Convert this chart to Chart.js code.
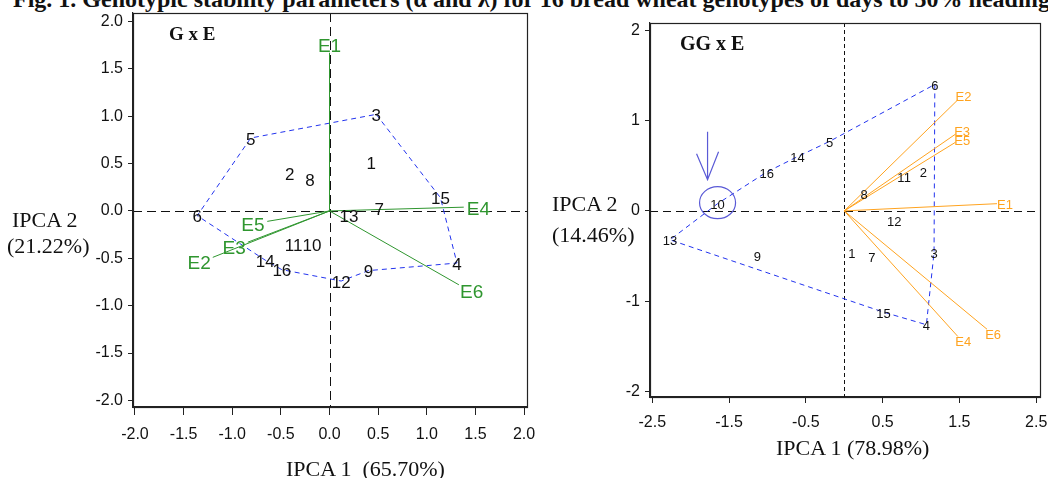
<!DOCTYPE html>
<html>
<head>
<meta charset="utf-8">
<script src="https://cdn.jsdelivr.net/npm/chart.js@4.4.1/dist/chart.umd.min.js"></script>
<style>
  body{margin:0;background:#fff;width:1048px;height:478px;overflow:hidden;position:relative;}
  canvas{position:absolute;top:0;}
  #gxe{left:0;}
  #gge{left:540px;}
  .txt{position:absolute;white-space:nowrap;color:#111;font-family:'Liberation Serif','Times New Roman',serif;line-height:1;}
</style>
</head>
<body>
<div class="txt" style="left:13px;top:-13px;font-size:24px;font-weight:bold;">Fig. 1. Genotypic stability parameters (α and λ) for 16 bread wheat genotypes of days to 50% heading</div>
<canvas id="gxe" width="540" height="478"></canvas>
<canvas id="gge" width="508" height="478"></canvas>
<div class="txt" style="left:169px;top:24px;font-size:19px;font-weight:bold;">G x E</div>
<div class="txt" style="left:680px;top:33px;font-size:20px;font-weight:bold;">GG x E</div>
<div class="txt" style="left:12px;top:209px;font-size:22px;">IPCA 2</div>
<div class="txt" style="left:7px;top:235px;font-size:22px;">(21.22%)</div>
<div class="txt" style="left:286px;top:458px;font-size:22px;">IPCA 1&nbsp;&nbsp;(65.70%)</div>
<div class="txt" style="left:552px;top:193px;font-size:22px;">IPCA 2</div>
<div class="txt" style="left:552px;top:224px;font-size:22px;">(14.46%)</div>
<div class="txt" style="left:776px;top:437px;font-size:22px;">IPCA 1 (78.98%)</div>
<script>
// ===================== DATA =====================
const genoNames = ['1','2','3','4','5','6','7','8','9','10','11','12','13','14','15','16'];
const envNames  = ['E1','E2','E3','E4','E5','E6'];

// G x E biplot (IPCA1 vs IPCA2)
const gxeGenoX = [0.43,-0.41,0.48,1.31,-0.81,-1.36,0.51,-0.20,0.40,-0.18,-0.37,0.12,0.20,-0.66,1.14,-0.49];
const gxeGenoY = [0.51,0.40,1.02,-0.55,0.77,-0.05,0.03,0.33,-0.63,-0.35,-0.35,-0.74,-0.05,-0.52,0.14,-0.62];
const gxeEnvX  = [0.00,-1.20,-0.84,1.38,-0.64,1.33];
const gxeEnvY  = [1.67,-0.49,-0.33,0.04,-0.11,-0.78];
const gxeHull  = ['3','15','4','9','12','16','14','6','5'];
const gxeTicks = [-2,-1.5,-1,-0.5,0,0.5,1,1.5,2];

// GG x E biplot
const ggeGenoX = [0.10,1.03,1.17,1.07,-0.19,1.18,0.36,0.26,-1.13,-1.65,0.78,0.65,-2.27,-0.61,0.51,-1.01];
const ggeGenoY = [-0.46,0.44,-0.46,-1.26,0.77,1.40,-0.50,0.19,-0.49,0.08,0.38,-0.11,-0.32,0.60,-1.12,0.43];
const ggeEnvX  = [1.99,1.48,1.45,1.48,1.45,1.86];
const ggeEnvY  = [0.08,1.23,0.85,-1.39,0.76,-1.31];
const ggeHull  = ['6','3','4','15','13','10','16','14','5'];
const ggeXTicks = [-2.5,-1.5,-0.5,0.5,1.5,2.5];
const ggeYTicks = [-2,-1,0,1,2];
const ggeMarked = '10';

// ===================== PANEL =====================
function buildPanel(id, cfg){
  const datasets = [];
  cfg.envX.forEach((x,i)=>{
    datasets.push({label:envNames[i], data:[{x:0,y:0},{x:x,y:cfg.envY[i]}], showLine:true,
      borderColor:cfg.envColor, borderWidth:1, pointRadius:0, tension:0});
  });
  const hull = cfg.hull.map(n=>{ const i=genoNames.indexOf(n); return {x:cfg.genoX[i], y:cfg.genoY[i]}; });
  hull.push(hull[0]);
  datasets.push({label:'hull', data:hull, showLine:true, borderColor:'#2233ee', borderWidth:1,
    borderDash:[5,4], pointRadius:0, tension:0});
  const gi = datasets.length;
  datasets.push({label:'Genotypes', data:cfg.genoX.map((x,i)=>({x:x,y:cfg.genoY[i]})), pointRadius:0});

  const biplot = {
    id:'biplot',
    beforeDatasetsDraw(chart){
      const {ctx, chartArea:a, scales:{x:xs,y:ys}} = chart;
      const x0 = Math.round(xs.getPixelForValue(0))+0.5, y0 = Math.round(ys.getPixelForValue(0))+0.5;
      ctx.save();
      ctx.strokeStyle='#111'; ctx.lineWidth=1;
      ctx.setLineDash(cfg.hDash);
      ctx.beginPath(); ctx.moveTo(a.left,y0); ctx.lineTo(a.right,y0); ctx.stroke();
      ctx.setLineDash(cfg.vDash);
      ctx.beginPath(); ctx.moveTo(x0,a.top); ctx.lineTo(x0,a.bottom); ctx.stroke();
      ctx.restore();
    },
    afterDatasetsDraw(chart){
      const {ctx, chartArea:a} = chart;
      ctx.save();
      ctx.strokeStyle='#222'; ctx.lineWidth=1.2; ctx.setLineDash([]);
      ctx.strokeRect(Math.round(a.left)+0.5, Math.round(a.top)+0.5, Math.round(a.width), Math.round(a.height));
      // environment labels, pushed out along the vector
      ctx.textAlign='center'; ctx.textBaseline='middle';
      ctx.font = cfg.envFont+'px "Liberation Sans", Arial, sans-serif';
      ctx.fillStyle = cfg.envColor;
      envNames.forEach((n,i)=>{
        const pts = chart.getDatasetMeta(i).data;
        const dx = pts[1].x-pts[0].x, dy = pts[1].y-pts[0].y, d = Math.hypot(dx,dy)||1;
        const w = ctx.measureText(n).width/2+cfg.gap, h = cfg.envFont*0.45+cfg.gap*0.3;
        ctx.fillText(n, pts[1].x+dx/d*w, pts[1].y+dy/d*h+cfg.drop);
      });
      // genotype labels
      ctx.font = cfg.genoFont+'px "Liberation Sans", Arial, sans-serif';
      ctx.fillStyle = '#111';
      chart.getDatasetMeta(gi).data.forEach((p,i)=>ctx.fillText(genoNames[i], p.x, p.y+2));
      // circled genotype with arrow
      if(cfg.marked){
        const p = chart.getDatasetMeta(gi).data[genoNames.indexOf(cfg.marked)];
        ctx.strokeStyle='#5a5ad6'; ctx.lineWidth=1.2;
        ctx.beginPath(); ctx.ellipse(p.x, p.y-1, 18, 16, 0, 0, Math.PI*2); ctx.stroke();
        const ax = p.x-10, tip = p.y-24;
        ctx.beginPath();
        ctx.moveTo(ax, tip-48); ctx.lineTo(ax, tip);
        ctx.moveTo(ax-11, tip-26); ctx.lineTo(ax, tip); ctx.lineTo(ax+11, tip-28);
        ctx.stroke();
      }
      ctx.restore();
    }
  };

  return new Chart(document.getElementById(id), {
    type:'scatter',
    data:{datasets},
    options:{
      responsive:false, animation:false, events:[],
      layout:{padding:cfg.pad},
      plugins:{legend:{display:false}, tooltip:{enabled:false}},
      scales:{
        x:{type:'linear', min:cfg.xMin, max:cfg.xMax,
          afterBuildTicks:s=>{ s.ticks = cfg.xTicks.map(v=>({value:v})); },
          afterFit:s=>{ s.height = 40; s.paddingLeft = 0; s.paddingRight = 0; },
          grid:{drawOnChartArea:false, color:'#222', tickLength:cfg.xTickLen},
          border:{color:'#222', width:1.2},
          ticks:{autoSkip:false, maxRotation:0, padding:cfg.xPad, color:'#111',
            font:{family:'"Liberation Sans", Arial, sans-serif', size:16}, callback:cfg.fmt}},
        y:{type:'linear', min:cfg.yMin, max:cfg.yMax,
          afterBuildTicks:s=>{ s.ticks = cfg.yTicks.map(v=>({value:v})); },
          afterFit:s=>{ s.width = 60; s.paddingTop = 0; s.paddingBottom = 0; },
          grid:{drawOnChartArea:false, color:'#222', tickLength:5},
          border:{color:'#222', width:1.2},
          ticks:{autoSkip:false, padding:cfg.yPad, color:'#111',
            font:{family:'"Liberation Sans", Arial, sans-serif', size:16}, callback:cfg.fmt}}
      }
    },
    plugins:[biplot]
  });
}

buildPanel('gxe', {
  genoX:gxeGenoX, genoY:gxeGenoY, envX:gxeEnvX, envY:gxeEnvY, hull:gxeHull,
  xTicks:gxeTicks, yTicks:gxeTicks, xMin:-2.02, xMax:2.03, yMin:-2.07, yMax:2.09,
  fmt:v=>Number(v).toFixed(1),
  envColor:'#2f962f', envFont:19, genoFont:17, gap:3, drop:3,
  hDash:[9,5], vDash:[9,5], xTickLen:8, xPad:10, yPad:5,
  pad:{left:73, right:13, top:13, bottom:31}
});

buildPanel('gge', {
  genoX:ggeGenoX, genoY:ggeGenoY, envX:ggeEnvX, envY:ggeEnvY, hull:ggeHull,
  xTicks:ggeXTicks, yTicks:ggeYTicks, xMin:-2.53, xMax:2.55, yMin:-2.06, yMax:2.08,
  fmt:v=>String(v),
  envColor:'#ffa31f', envFont:13, genoFont:13, gap:0, drop:2, marked:ggeMarked,
  hDash:[8,5], vDash:[4,3], xTickLen:6, xPad:10, yPad:5,
  pad:{left:50, right:8, top:23, bottom:41}
});
</script>
</body>
</html>
